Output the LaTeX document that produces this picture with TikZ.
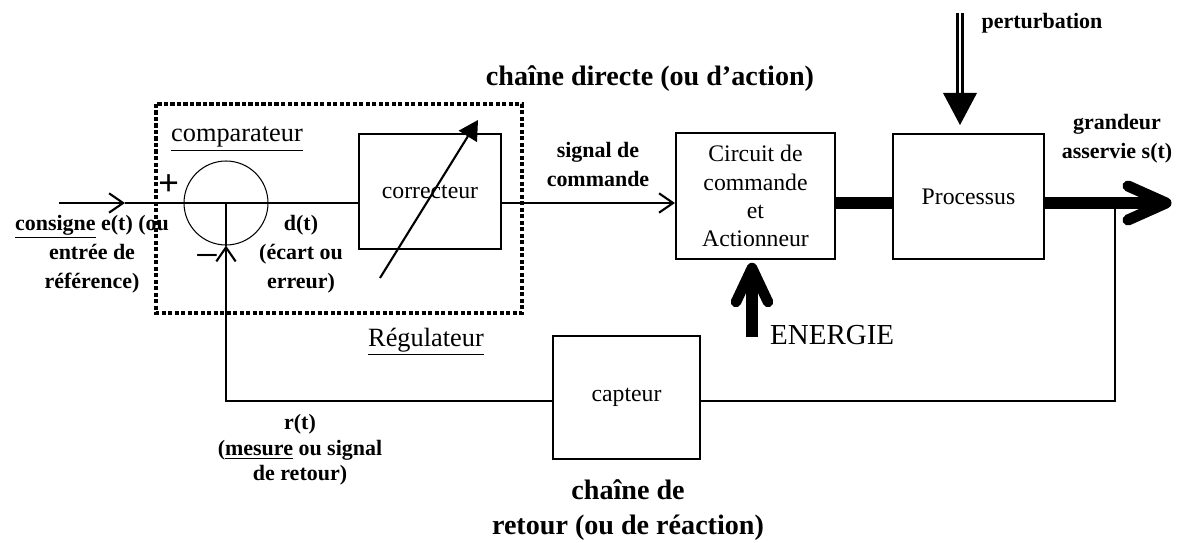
\documentclass[tikz,border=0pt]{standalone}
\usepackage{fontspec}
\setmainfont{Liberation Serif}
\usetikzlibrary{arrows.meta,positioning}

\begin{document}
\begin{tikzpicture}[x=0.02cm, y=-0.02cm,
	bloc/.style={draw, line width=1.2pt, inner sep=0pt, align=center, font=\fontsize{13.5}{16}\selectfont},
	lbl/.style={align=center, font=\bfseries\fontsize{12.5}{16.5}\selectfont},
	titre/.style={align=center, font=\bfseries\fontsize{16}{20}\selectfont},
	signal/.style={line width=1.2pt},
	gros/.style={line width=6.3pt},
	ouvert/.style={-{Straight Barb[length=8pt, width=11pt]}}]
	\useasboundingbox (0,0) rectangle (1177,543);
	%\draw[help lines] (0,0) grid[step=100] (1177,543);

	% Regulateur (cadre pointille)
	\draw[line width=1.8pt, dash pattern=on 2.5pt off 1.2pt] (156,104) rectangle (522,313);

	\node [draw, circle, line width=0.6pt, minimum size=1.68cm, inner sep=0pt] (comp) at (226,203) {};	% comparateur
	\node [bloc, minimum width=2.84cm, minimum height=2.3cm] (corr) at (430,191.5) {correcteur};
	\node [bloc, minimum width=3.18cm, minimum height=2.52cm] (circ) at (755.5,196) {Circuit de\\commande\\et\\Actionneur};
	\node [bloc, minimum width=3.02cm, minimum height=2.5cm] (proc) at (968.5,196.5) {Processus};
	\node [bloc, minimum width=2.94cm, minimum height=2.46cm] (capt) at (626.5,397.5) {capteur};

	\coordinate (entree) at (59,203);		% debut consigne
	\coordinate (fleche) at (125,203);		% pointe sur l'entree
	\coordinate (tap) at (1115,203);		% prise de la sortie
	\coordinate (retourD) at (1115,401);
	\coordinate (retourG) at (226,401);
	\coordinate (sortie) at (1166,203);
	\coordinate (pertH) at (960,13);
	\coordinate (pertB) at (960,93);
	\coordinate (pertP) at (960,125);
	\coordinate (energieB) at (752,337);
	\coordinate (energie) at (752,268);
	\coordinate (reglA) at (380,278);
	\coordinate (reglB) at (478,120);

	% chaine directe
	\draw[signal, ouvert] (entree) -- (fleche);
	\draw[signal] (fleche) -- (corr.west |- comp.center);
	\draw[line width=0.6pt] (comp.center) -- (comp.south);
	\draw[signal, ouvert] (corr.east |- comp.center) -- (circ.west |- comp.center);
	\draw[gros] (circ.east |- comp.center) -- (proc.west |- comp.center);
	\draw[gros] (proc.east |- comp.center) -- (sortie);
	\draw[gros, line cap=round, line join=round] ([shift={(-38,-17)}]sortie) -- (sortie) -- ([shift={(-38,17)}]sortie);

	% chaine de retour
	\draw[signal] (tap) -- (retourD) -- (capt.east |- retourD);
	\draw[signal, ouvert] (capt.west |- retourD) -- (retourG) -- (comp.south);

	% correcteur reglable
	\draw[line width=1.2pt, -{Triangle[length=11pt, width=12pt]}] (reglA) -- (reglB);

	% perturbation
	\draw[line width=1.7pt, double, double distance=1.2pt] (pertH) -- (pertB);
	\fill ([shift={(-17,-32)}]pertP) -- ([shift={(17,-32)}]pertP) -- (pertP) -- cycle;

	% energie
	\draw[line width=7pt] (energieB) -- (energie);
	\draw[line width=6pt, line cap=round, line join=round] ([shift={(-16,34)}]energie) -- (energie) -- ([shift={(16,34)}]energie);

	\node [font=\bfseries\fontsize{21}{21}\selectfont] (plus) at (169,185) {+};
	\node [font=\fontsize{24}{24}\selectfont] (moins) at (207,262) {−};

	\node [titre] (directe) at (650,79) {chaîne directe (ou d'action)};
	\node [font=\fontsize{15}{18}\selectfont] (compar) at (237,139) {\underline{comparateur}};
	\node [lbl] (sigcom) at (598,164) {signal de\\commande};
	\node [lbl] (consigne) at (92,254) {\underline{consigne} e(t) (ou\\entrée de\\référence)};
	\node [lbl] (ecart) at (301,254) {d(t)\\(écart ou\\erreur)};
	\node [font=\fontsize{15}{18}\selectfont] (regul) at (426,342) {\underline{Régulateur}};
	\node [lbl] (perturb) at (1042,23) {perturbation};
	\node [lbl] (grandeur) at (1117,139) {grandeur\\asservie s(t)};
	\node [anchor=west, font=\fontsize{16.5}{20}\selectfont] (energielbl) at (764,335) {ENERGIE};
	\node [align=center, font=\bfseries\fontsize{12.5}{14.5}\selectfont] (mesure) at (300,450) {r(t)\\(\underline{mesure} ou signal\\de retour)};
	\node [titre] (retour) at (628,510) {chaîne de\\retour (ou de réaction)};

\end{tikzpicture}
\end{document}
